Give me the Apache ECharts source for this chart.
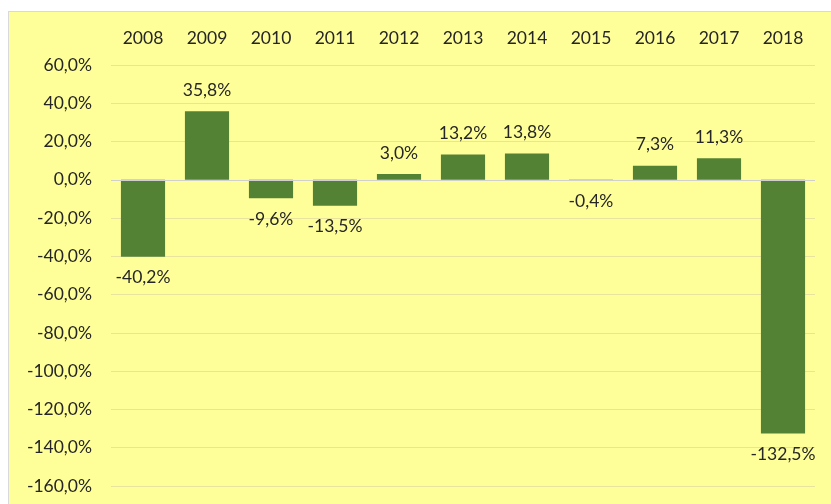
<!DOCTYPE html>
<html>
<head>
<meta charset="utf-8">
<script src="https://cdn.jsdelivr.net/npm/echarts@6/dist/echarts.min.js"></script>
<style>
  html, body { margin: 0; padding: 0; background: #fff; overflow: hidden; }
  .box {
    position: absolute; left: 8px; top: 11px; width: 840px; height: 510px;
    background: #FFFF99; border: 1px solid #D9D9D9;
  }
  #chart { position: absolute; left: 0; top: 0; width: 831px; height: 504px; }
</style>
</head>
<body>
<div class="box"></div>
<div id="chart"></div>
<script>
  // 年份 / 变化率(%)
  var years = ['2008', '2009', '2010', '2011', '2012', '2013', '2014', '2015', '2016', '2017', '2018'];
  var values = [-40.2, 35.8, -9.6, -13.5, 3.0, 13.2, 13.8, -0.4, 7.3, 11.3, -132.5];

  var fmt = function (v) {
    return v.toFixed(1).replace('.', ',') + '%';
  };

  var myChart = echarts.init(document.getElementById('chart'));
  var option = {
    backgroundColor: 'transparent',
    textStyle: { fontFamily: 'Lato' },
    grid: { left: 111, right: 16, top: 65, bottom: 18 },
    xAxis: {
      type: 'category',
      position: 'top',
      data: years,
      axisLine: { show: false, onZero: false },
      axisTick: { show: false },
      axisLabel: { color: '#262626', fontSize: 17.5, margin: 18 }
    },
    yAxis: {
      type: 'value',
      min: -160,
      max: 60,
      interval: 20,
      axisLine: { show: false },
      axisTick: { show: false },
      axisLabel: {
        color: '#262626', fontSize: 17.5, margin: 19,
        formatter: function (v) { return fmt(v); }
      },
      splitLine: { lineStyle: { color: '#E8E4A0', width: 1 } }
    },
    series: [{
      type: 'bar',
      barCategoryGap: '31%',
      itemStyle: { color: '#548235' },
      data: values.map(function (v) {
        return {
          value: v,
          label: { position: v < 0 ? 'bottom' : 'top' }
        };
      }),
      label: {
        show: true,
        distance: 12,
        color: '#262626',
        fontSize: 17.5,
        formatter: function (p) { return fmt(p.value); }
      },
      markLine: {
        silent: true,
        symbol: 'none',
        label: { show: false },
        lineStyle: { color: '#D0D0D0', type: 'solid', width: 1 },
        data: [{ yAxis: 0 }]
      }
    }]
  };
  myChart.setOption(option, true);
</script>
</body>
</html>
